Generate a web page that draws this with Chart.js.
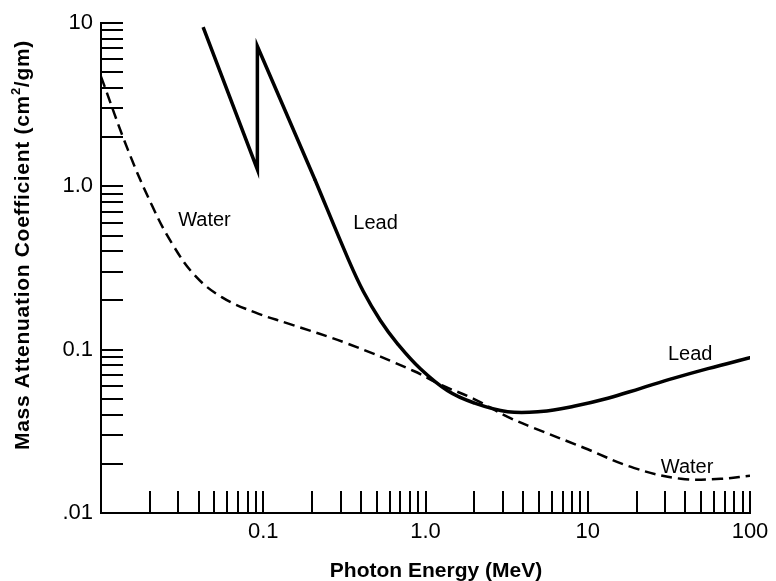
<!DOCTYPE html>
<html>
<head>
<meta charset="utf-8">
<title>Mass attenuation coefficient</title>
<script src="https://cdn.jsdelivr.net/npm/chart.js@4.4.0/dist/chart.umd.min.js"></script>
<style>
  html, body { margin: 0; padding: 0; background: #fff; }
</style>
</head>
<body>
<canvas id="chart" width="776" height="581"></canvas>
<script>
// ============================
// Data: photon energy (MeV) vs mass attenuation coefficient (cm2/gm)
// ============================
const waterEnergy = [0.01, 0.0147, 0.0206, 0.0274, 0.038, 0.0558, 0.089, 0.143, 0.33, 0.84, 1.24, 1.98, 3.21, 4.64, 9.45, 19.2, 37.5, 66, 100];
const waterCoef   = [4.7, 1.66, 0.765, 0.447, 0.284, 0.209, 0.169, 0.1444, 0.109, 0.0743, 0.061, 0.05, 0.0388, 0.0332, 0.0251, 0.0189, 0.0162, 0.0162, 0.0169];

// lead below and across the K edge (straight segments)
const leadEdgeEnergy = [0.0426, 0.092, 0.092, 0.209];
const leadEdgeCoef   = [9.45, 1.27, 7.2, 1.09];

// lead above the K edge (smooth part)
const leadEnergy = [0.209, 0.335, 0.414, 0.527, 0.671, 0.93, 1.37, 1.98, 3.21, 5.13, 8.2, 13.3, 21.2, 34, 55, 100];
const leadCoef   = [1.09, 0.356, 0.227, 0.151, 0.109, 0.0764, 0.056, 0.0473, 0.0417, 0.0418, 0.045, 0.0504, 0.058, 0.0669, 0.0765, 0.0893];

// axis ticks: every 1..9 multiple of each decade
function decadeTicks(from, to) {
    const out = [];
    for (let d = from; d < to; d++) {
        for (let m = 1; m < 10; m++) out.push(m * Math.pow(10, d));
    }
    out.push(Math.pow(10, to));
    return out;
}
const xTickValues = decadeTicks(-2, 2);
const yTickValues = decadeTicks(-2, 1);
const xTickLabels = ['', '0.1', '1.0', '10', '100'];   // 0.01 .. 100
const yTickLabels = ['.01', '0.1', '1.0', '10'];       // 0.01 .. 10

// curve names, anchored in data units (left edge / baseline)
const curveNames = [
    { text: 'Water', x: 0.0299, y: 0.569 },
    { text: 'Lead',  x: 0.359,  y: 0.545 },
    { text: 'Lead',  x: 31.2,   y: 0.0868 },
    { text: 'Water', x: 28.2,   y: 0.0176 }
];

const INK = '#000';
const FONT = '"Liberation Sans", Arial, Helvetica, sans-serif';

function toPoints(xs, ys) {
    return xs.map((x, i) => ({ x: x, y: ys[i] }));
}

function decadeLabel(labels, offset) {
    return function (value) {
        const l = Math.log10(value);
        if (Math.abs(l - Math.round(l)) > 1e-6) return '';
        return labels[Math.round(l) + offset] || '';
    };
}

// short tick marks drawn inward from both axes
const innerTicks = {
    id: 'innerTicks',
    beforeDatasetsDraw(chart) {
        const { ctx, chartArea, scales } = chart;
        ctx.save();
        ctx.strokeStyle = INK;
        ctx.lineWidth = 2;
        ctx.beginPath();
        xTickValues.forEach(v => {
            if (v <= 0.01) return;
            const px = Math.round(scales.x.getPixelForValue(v));
            ctx.moveTo(px, chartArea.bottom);
            ctx.lineTo(px, chartArea.bottom - 22);
        });
        yTickValues.forEach(v => {
            if (v <= 0.01) return;
            const py = Math.round(scales.y.getPixelForValue(v));
            ctx.moveTo(chartArea.left, py);
            ctx.lineTo(chartArea.left + 22, py);
        });
        ctx.stroke();
        ctx.restore();
    }
};

// axis titles and curve names
const chartText = {
    id: 'chartText',
    afterDraw(chart) {
        const { ctx, scales } = chart;
        ctx.save();
        ctx.fillStyle = INK;

        // curve names
        ctx.font = '20px ' + FONT;
        ctx.textAlign = 'left';
        ctx.textBaseline = 'alphabetic';
        curveNames.forEach(n => {
            ctx.fillText(n.text, scales.x.getPixelForValue(n.x), scales.y.getPixelForValue(n.y));
        });

        // x title
        ctx.font = 'bold 21px ' + FONT;
        ctx.textAlign = 'center';
        ctx.fillText('Photon Energy (MeV)', 436, 577);

        // y title, rotated, with superscript 2
        ctx.translate(29, 245);
        ctx.rotate(-Math.PI / 2);
        ctx.textAlign = 'left';
        ctx.letterSpacing = '0.7px';
        const partA = 'Mass Attenuation Coefficient (cm';
        const partB = '/gm)';
        const big = 'bold 21px ' + FONT;
        const small = 'bold 13px ' + FONT;
        ctx.font = big;
        const wA = ctx.measureText(partA).width;
        const wB = ctx.measureText(partB).width;
        ctx.font = small;
        const wS = ctx.measureText('2').width;
        let x0 = -(wA + wS + wB) / 2;
        ctx.font = big;
        ctx.fillText(partA, x0, 0);
        ctx.font = small;
        ctx.fillText('2', x0 + wA, -9);
        ctx.font = big;
        ctx.fillText(partB, x0 + wA + wS, 0);
        ctx.restore();
    }
};

const ctx = document.getElementById('chart').getContext('2d');
new Chart(ctx, {
    type: 'line',
    data: {
        datasets: [
            {
                label: 'Water',
                data: toPoints(waterEnergy, waterCoef),
                borderColor: INK,
                borderWidth: 2.5,
                borderDash: [11, 6],
                pointRadius: 0,
                tension: 0.4,
                fill: false
            },
            {
                label: 'Lead',
                data: toPoints(leadEdgeEnergy, leadEdgeCoef),
                borderColor: INK,
                borderWidth: 3.5,
                borderJoinStyle: 'miter',
                tension: 0,
                pointRadius: 0,
                fill: false
            },
            {
                label: 'Lead',
                data: toPoints(leadEnergy, leadCoef),
                borderColor: INK,
                borderWidth: 3.5,
                borderCapStyle: 'round',
                tension: 0.4,
                pointRadius: 0,
                fill: false
            }
        ]
    },
    options: {
        responsive: false,
        animation: false,
        layout: { padding: { top: 23, right: 26, left: 0, bottom: 0 } },
        plugins: {
            legend: { display: false },
            tooltip: { enabled: false }
        },
        scales: {
            x: {
                type: 'logarithmic',
                min: 0.01,
                max: 100,
                grid: { display: false, drawTicks: false },
                border: { display: true, color: INK, width: 2 },
                ticks: {
                    autoSkip: false,
                    maxRotation: 0,
                    padding: 6,
                    color: INK,
                    font: { family: FONT, size: 22 },
                    callback: decadeLabel(xTickLabels, 2)
                },
                afterBuildTicks: s => { s.ticks = xTickValues.map(v => ({ value: v })); },
                afterFit: s => { s.height = 68; }
            },
            y: {
                type: 'logarithmic',
                min: 0.01,
                max: 10,
                grid: { display: false, drawTicks: false },
                border: { display: true, color: INK, width: 2 },
                ticks: {
                    autoSkip: false,
                    padding: 8,
                    color: INK,
                    font: { family: FONT, size: 22 },
                    callback: decadeLabel(yTickLabels, 2)
                },
                afterBuildTicks: s => { s.ticks = yTickValues.map(v => ({ value: v })); },
                afterFit: s => { s.width = 101; }
            }
        }
    },
    plugins: [innerTicks, chartText]
});
</script>
</body>
</html>
